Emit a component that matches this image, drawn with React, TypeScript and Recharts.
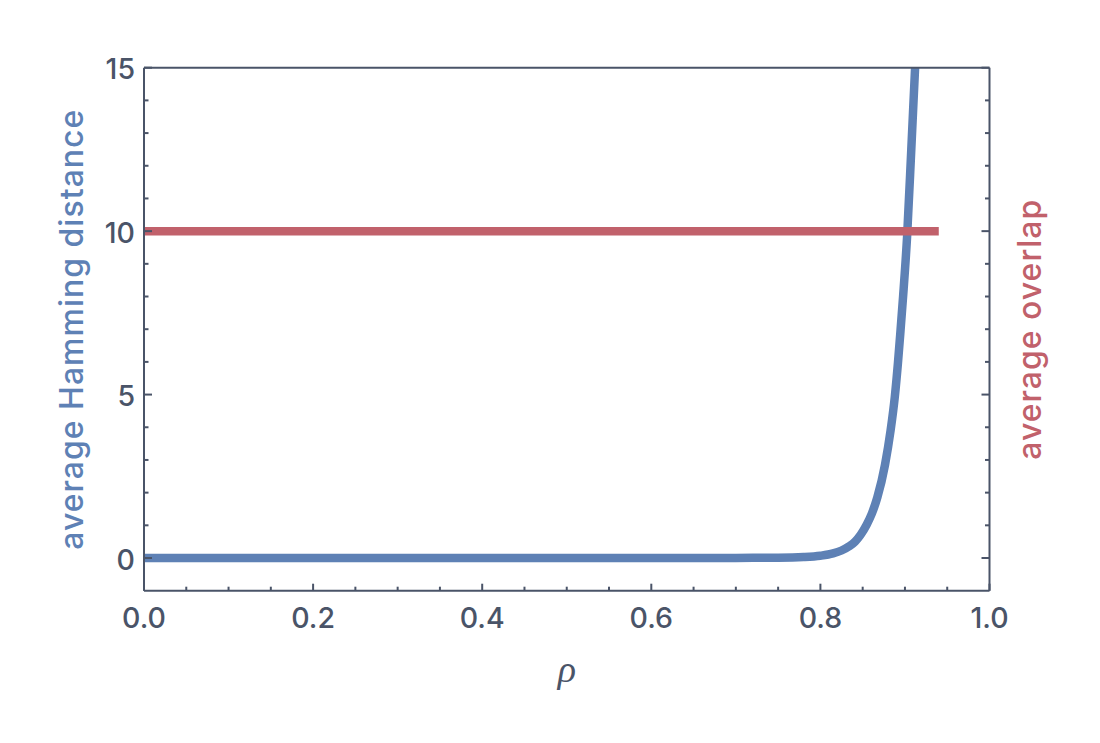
import { LineChart, Line, XAxis, YAxis, Label } from "recharts";

// blue curve: rho -> average Hamming distance
const rhoValues = [
  0, 0.2, 0.4, 0.6, 0.7, 0.75, 0.78, 0.8, 0.815, 0.825, 0.834, 0.8409, 0.8475, 0.8547, 0.861,
  0.8673, 0.8764, 0.883, 0.888, 0.8917, 0.8948, 0.8978, 0.9025, 0.9075, 0.912, 0.9135,
];
const hammingValues = [
  0, 0, 0, 0, 0.003, 0.01, 0.03, 0.07, 0.14, 0.23, 0.36, 0.5, 0.71, 1.02, 1.37,
  1.85, 2.85, 3.9, 4.93, 5.96, 6.97, 8.0, 9.82, 12.5, 15.0, 15.8,
];

// red line: average overlap
const overlapRho = [0, 0.94];
const overlapValues = [10, 10];

const xTicks = [
  0, 0.05, 0.1, 0.15, 0.2, 0.25, 0.3, 0.35, 0.4, 0.45, 0.5, 0.55, 0.6, 0.65, 0.7, 0.75, 0.8,
  0.85, 0.9, 0.95, 1,
];
const yTicks = [0, 1, 2, 3, 4, 5, 6, 7, 8, 9, 10, 11, 12, 13, 14, 15];

const BLUE = "#5e81b5";
const RED = "#c1616b";
const FRAME = "#4a5468";
const FONT = "Inter, 'Open Sans', sans-serif";

const hammingData = rhoValues.map((rho, i) => ({ rho, hamming: hammingValues[i] }));
const overlapData = overlapRho.map((rho, i) => ({ rho, overlap: overlapValues[i] }));

const isMajorX = (v: number) => Math.abs(v * 5 - Math.round(v * 5)) < 1e-6;
const isMajorY = (v: number) => v % 5 === 0;

function BottomTick({ x, y, payload }: any) {
  const major = isMajorX(payload.value);
  return (
    <g>
      <line x1={x} x2={x} y1={y} y2={y - (major ? 7 : 4)} stroke={FRAME} strokeWidth={2} />
      {major && (
        <text x={x} y={y + 37.5} textAnchor="middle" fill={FRAME} fontSize={28.5} fontWeight={500} fontFamily={FONT}>
          {payload.value.toFixed(1)}
        </text>
      )}
    </g>
  );
}

function TopTick({ x, y, payload }: any) {
  const major = isMajorX(payload.value);
  return <line x1={x} x2={x} y1={y} y2={y + (major ? 7 : 4)} stroke={FRAME} strokeWidth={2} />;
}

function LeftTick({ x, y, payload }: any) {
  const major = isMajorY(payload.value);
  return (
    <g>
      <line x1={x} x2={x + (major ? 8 : 4.5)} y1={y} y2={y} stroke={FRAME} strokeWidth={2} />
      {major && (
        <text x={x - 9} y={y + 11.5} textAnchor="end" fill={FRAME} fontSize={28.5} fontWeight={500} fontFamily={FONT}>
          {payload.value}
        </text>
      )}
    </g>
  );
}

function RightTick({ x, y, payload }: any) {
  const major = isMajorY(payload.value);
  return <line x1={x} x2={x - (major ? 8 : 4.5)} y1={y} y2={y} stroke={FRAME} strokeWidth={2} />;
}

export default function App() {
  return (
    <div style={{ position: "absolute", left: 0, top: 0, width: 1100, height: 743, background: "#fff" }}>
      <LineChart width={1100} height={743} margin={{ top: 0, right: 29.5, bottom: 0, left: 0 }}>
        <XAxis
          xAxisId="bottom"
          dataKey="rho"
          type="number"
          domain={[0, 1]}
          ticks={xTicks}
          interval={0}
          height={152.3}
          tickSize={0}
          tickMargin={0}
          tickLine={false}
          axisLine={{ stroke: FRAME, strokeWidth: 2 }}
          tick={<BottomTick />}
        >
          <Label
            value="ρ"
            position="insideBottom"
            offset={61}
            fill={FRAME}
            fontSize={38}
            fontStyle="italic"
            fontFamily="'Liberation Serif', serif"
          />
        </XAxis>
        <XAxis
          xAxisId="top"
          orientation="top"
          dataKey="rho"
          type="number"
          domain={[0, 1]}
          ticks={xTicks}
          interval={0}
          height={67.7}
          tickSize={0}
          tickMargin={0}
          tickLine={false}
          axisLine={{ stroke: FRAME, strokeWidth: 2 }}
          tick={<TopTick />}
        />
        <YAxis
          yAxisId="left"
          type="number"
          domain={[-1, 15]}
          allowDataOverflow
          ticks={yTicks}
          interval={0}
          width={144}
          tickSize={0}
          tickMargin={0}
          tickLine={false}
          axisLine={{ stroke: FRAME, strokeWidth: 2 }}
          tick={<LeftTick />}
        >
          <Label
            value="average Hamming distance"
            angle={-90}
            position="center"
            fill={BLUE}
            fontSize={32}
            fontWeight={500}
            fontFamily={FONT}
            letterSpacing={1}
          />
        </YAxis>
        <YAxis
          yAxisId="right"
          orientation="right"
          type="number"
          domain={[-1, 15]}
          allowDataOverflow
          ticks={yTicks}
          interval={0}
          width={81}
          tickSize={0}
          tickMargin={0}
          tickLine={false}
          axisLine={{ stroke: FRAME, strokeWidth: 2 }}
          tick={<RightTick />}
        >
          <Label
            value="average overlap"
            angle={-90}
            position="center"
            fill={RED}
            fontSize={32}
            fontWeight={500}
            fontFamily={FONT}
            letterSpacing={1}
          />
        </YAxis>
        <Line
          xAxisId="bottom"
          yAxisId="left"
          data={hammingData}
          dataKey="hamming"
          type="monotone"
          stroke={BLUE}
          strokeWidth={8.5}
          dot={false}
          activeDot={false}
          isAnimationActive={false}
        />
        <Line
          xAxisId="bottom"
          yAxisId="left"
          data={overlapData}
          dataKey="overlap"
          type="linear"
          stroke={RED}
          strokeWidth={8.5}
          dot={false}
          activeDot={false}
          isAnimationActive={false}
        />
      </LineChart>
    </div>
  );
}
